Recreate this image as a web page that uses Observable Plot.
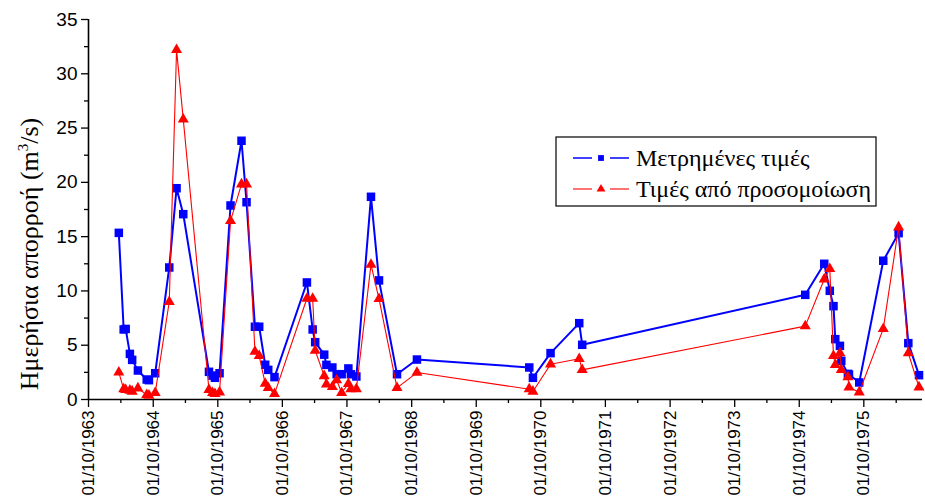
<!DOCTYPE html>
<html><head><meta charset="utf-8">
<script src="https://cdn.jsdelivr.net/npm/d3@7"></script>
<script src="https://cdn.jsdelivr.net/npm/@observablehq/plot@0.6"></script>
<style>body{margin:0;background:#fff} svg{display:block}</style>
</head><body><div id="chart"></div>
<script>
// Dates as decimal years
const decYears = [1964.217,1964.292,1964.323,1964.388,1964.423,1964.512,1964.648,1964.682,1964.779,1964.996,
  1965.109,1965.213,1965.611,1965.666,1965.704,1965.775,1965.945,1966.115,1966.193,1966.323,
  1966.389,1966.482,1966.529,1966.626,1967.128,1967.217,1967.256,1967.396,1967.430,1967.522,
  1967.589,1967.666,1967.770,1967.809,1967.894,1968.120,1968.244,1968.522,1968.830,1970.569,
  1970.626,1970.899,1971.343,1971.389,1974.841,1975.135,1975.221,1975.278,1975.306,1975.378,
  1975.399,1975.502,1975.518,1975.677,1976.049,1976.286,1976.436,1976.601];
const measured = [15.35,6.45,6.5,4.2,3.65,2.67,1.84,1.78,2.42,12.16,
  19.46,17.07,2.55,2.2,2.0,2.42,17.87,23.83,18.17,6.7,
  6.7,3.2,2.73,2.06,10.78,6.45,5.28,4.13,3.19,2.95,
  2.33,2.33,2.86,2.32,2.12,18.67,10.97,2.33,3.68,2.95,
  2.0,4.27,7.03,5.04,9.64,12.5,10.01,8.6,5.56,4.94,
  3.56,2.36,2.3,1.57,12.78,15.32,5.19,2.24];
const simulated = [2.5,0.95,0.89,0.83,0.74,1.04,0.43,0.37,0.61,9.0,
  32.2,25.8,0.9,0.62,0.52,0.67,16.46,19.83,19.83,4.42,
  4.02,1.47,1.08,0.52,9.3,9.3,4.51,2.17,1.4,1.17,
  1.78,0.62,1.45,0.95,0.97,12.42,9.27,1.07,2.48,0.95,
  0.74,3.25,3.75,2.73,6.76,11.08,12.04,4.02,3.19,4.27,
  2.73,2.06,1.13,0.67,6.51,15.87,4.27,1.13];
const seriesNames = ["Μετρημένες τιμές", "Τιμές από προσομοίωση"];
const tickYears = [1963,1964,1965,1966,1967,1968,1969,1970,1971,1972,1973,1974,1975];
const yTicks = [0,5,10,15,20,25,30,35];
const yMinorTicks = [2.5,7.5,12.5,17.5,22.5,27.5,32.5];
const yDomain = [0,35];
const xEndYear = 1976.655;

const toDate = y => { const f = Math.floor(y); const a = Date.UTC(f,0,1), b = Date.UTC(f+1,0,1); return new Date(a + (y-f)*(b-a)); };
const rows = decYears.map((t,i) => ({date: toDate(t), m: measured[i], s: simulated[i]}));
const x0 = new Date(Date.UTC(tickYears[0],9,1)), x1 = toDate(xEndYear);
const major = tickYears.map(y => new Date(Date.UTC(y,9,1)));
const minor = tickYears.map(y => new Date(Date.UTC(y+1,3,1)));

const plot = Plot.plot({
  width: 925, height: 503,
  marginLeft: 88, marginRight: 3, marginTop: 19, marginBottom: 104,
  style: {fontFamily: "'Liberation Sans', Arial, sans-serif", fontSize: "16px", background: "#fff", color: "#000", overflow: "visible"},
  x: {type: "utc", domain: [x0, x1]},
  y: {domain: yDomain},
  marks: [
    Plot.axisY({ticks: yTicks, tickSize: 7, tickPadding: 4, label: null, fontSize: 19, tickFormat: d => String(d), strokeWidth: 1.3}),
    Plot.axisY({ticks: yMinorTicks, tickSize: 4, tickFormat: () => "", label: null, strokeWidth: 1.3}),
    Plot.axisX({ticks: major, tickSize: 8, tickPadding: 3, tickRotate: -90, fontSize: 17,
      tickFormat: d => "01/10/" + d.getUTCFullYear(), label: null, strokeWidth: 1.3}),
    Plot.axisX({ticks: minor, tickSize: 4, tickFormat: () => "", label: null, strokeWidth: 1.3}),
    Plot.ruleX([x0], {y1: yDomain[0], y2: yDomain[1], strokeWidth: 1.6}),
    Plot.ruleY([0], {x1: x0, x2: x1, strokeWidth: 1.6}),
    Plot.line(rows, {x: "date", y: "m", stroke: "#0000ff", strokeWidth: 2}),
    Plot.dot(rows, {x: "date", y: "m", symbol: "square", r: 4.8, fill: "#0000ff"}),
    Plot.line(rows, {x: "date", y: "s", stroke: "#ff0000", strokeWidth: 1.1}),
    Plot.dot(rows, {x: "date", y: "s", symbol: "triangle", r: 4.1, fill: "#ff0000"})
  ]
});

const svg = d3.select(plot);
const serif = "'Liberation Serif', 'Times New Roman', serif";
// Y label
const yl = svg.append("text")
  .attr("transform", "translate(38,254) rotate(-90)")
  .attr("text-anchor", "middle")
  .attr("font-family", serif)
  .attr("font-size", 26).attr("fill", "#000");
yl.append("tspan").text("Ημερήσια απορροή (m");
yl.append("tspan").text("3").attr("font-size", 15).attr("dy", -10);
yl.append("tspan").text("/s)").attr("dy", 10);

// Legend
const lg = svg.append("g");
lg.append("rect").attr("x", 556).attr("y", 137).attr("width", 320).attr("height", 69)
  .attr("fill", "#fff").attr("stroke", "#000").attr("stroke-width", 1.2);
const items = [
  {name: seriesNames[0], color: "#0000ff", sym: d3.symbolSquare, y: 158, w: 1.5},
  {name: seriesNames[1], color: "#ff0000", sym: d3.symbolTriangle, y: 189, w: 1.1}
];
items.forEach(it => {
  lg.append("line").attr("x1", 573).attr("x2", 592).attr("y1", it.y).attr("y2", it.y)
    .attr("stroke", it.color).attr("stroke-width", it.w);
  lg.append("line").attr("x1", 610).attr("x2", 629).attr("y1", it.y).attr("y2", it.y)
    .attr("stroke", it.color).attr("stroke-width", it.w);
  lg.append("path").attr("d", d3.symbol(it.sym, 34)()).attr("transform", `translate(601,${it.y})`).attr("fill", it.color);
  lg.append("text").attr("x", 636).attr("y", it.y + 8).text(it.name)
    .attr("text-anchor", "start")
    .attr("font-family", serif).attr("font-size", 24).attr("fill", "#000");
});
document.getElementById("chart").append(plot);
</script>
</body></html>
